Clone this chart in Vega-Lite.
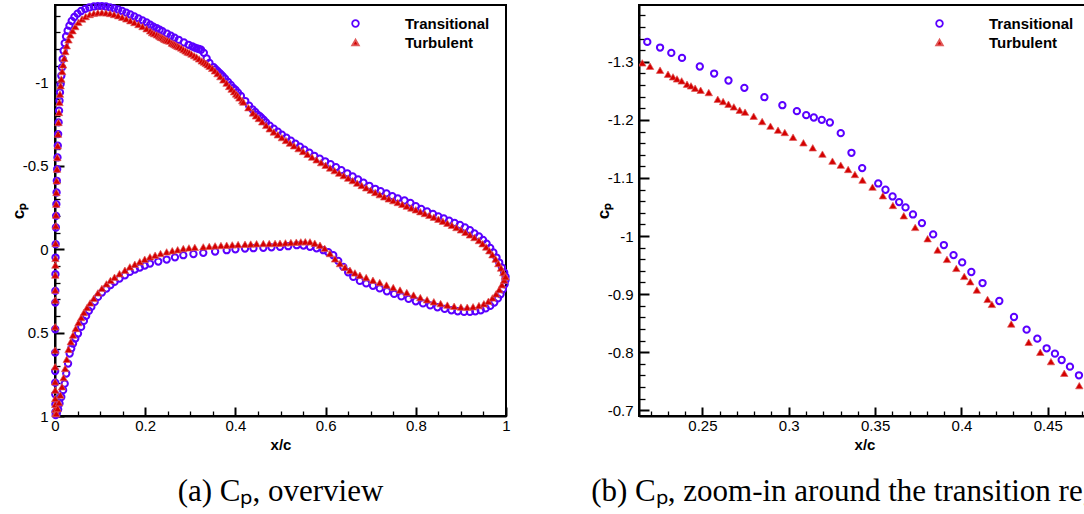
{
"$schema": "https://vega.github.io/schema/vega-lite/v6.json",
"background": "white",
"padding": {"left": 8, "top": -2, "right": -12, "bottom": 0},
"spacing": 76,
"config": {
  "view": {"stroke": "black", "strokeWidth": 2},
  "font": "Liberation Sans",
  "axis": {"domainColor": "black", "domainWidth": 2, "tickColor": "black", "grid": false,
    "labelFont": "Liberation Sans", "labelFontSize": 15, "labelColor": "black",
    "titleFont": "Liberation Sans", "titleFontWeight": "bold", "titleColor": "black",
    "zindex": 1, "labelFlush": false, "labelOverlap": false},
  "legend": {"labelFont": "Liberation Sans", "labelFontSize": 15, "labelFontWeight": "bold", "labelColor": "black",
    "symbolSize": 44, "symbolStrokeWidth": 1.8, "labelOffset": 42, "rowPadding": 3, "padding": 0}
},
"resolve": {"legend": {"shape": "independent", "fill": "independent", "stroke": "independent"}},
"datasets": {"cp": [
{"s":"Transitional","x":0.0015,"cp":0.995},{"s":"Transitional","x":0.001,"cp":0.975},{"s":"Transitional","x":0.0008,"cp":0.93},{"s":"Transitional","x":0.0006,"cp":0.87},{"s":"Transitional","x":0.0005,"cp":0.8},{"s":"Transitional","x":0.0004,"cp":0.73},{"s":"Transitional","x":0.0004,"cp":0.62},{"s":"Transitional","x":0.0005,"cp":0.48},{"s":"Transitional","x":0.0006,"cp":0.32},{"s":"Transitional","x":0.0008,"cp":0.25},{"s":"Transitional","x":0.001,"cp":0.15},{"s":"Transitional","x":0.0012,"cp":0.05},{"s":"Transitional","x":0.0015,"cp":-0.03},{"s":"Transitional","x":0.002,"cp":-0.13},{"s":"Transitional","x":0.0025,"cp":-0.2},{"s":"Transitional","x":0.003,"cp":-0.27},{"s":"Transitional","x":0.0035,"cp":-0.34},{"s":"Transitional","x":0.004,"cp":-0.41},{"s":"Transitional","x":0.0048,"cp":-0.48},{"s":"Transitional","x":0.0055,"cp":-0.55},{"s":"Transitional","x":0.0062,"cp":-0.62},{"s":"Transitional","x":0.007,"cp":-0.69},{"s":"Transitional","x":0.008,"cp":-0.76},{"s":"Transitional","x":0.009,"cp":-0.83},{"s":"Transitional","x":0.01,"cp":-0.89},{"s":"Transitional","x":0.011,"cp":-0.94},{"s":"Transitional","x":0.0125,"cp":-0.99},{"s":"Transitional","x":0.014,"cp":-1.04},{"s":"Transitional","x":0.0155,"cp":-1.09},{"s":"Transitional","x":0.017,"cp":-1.14},{"s":"Transitional","x":0.019,"cp":-1.19},{"s":"Transitional","x":0.0215,"cp":-1.235},{"s":"Transitional","x":0.0245,"cp":-1.275},{"s":"Transitional","x":0.028,"cp":-1.31},{"s":"Transitional","x":0.032,"cp":-1.34},{"s":"Transitional","x":0.037,"cp":-1.368},{"s":"Transitional","x":0.043,"cp":-1.392},{"s":"Transitional","x":0.05,"cp":-1.412},{"s":"Transitional","x":0.058,"cp":-1.428},{"s":"Transitional","x":0.067,"cp":-1.441},{"s":"Transitional","x":0.076,"cp":-1.449},{"s":"Transitional","x":0.086,"cp":-1.455},{"s":"Transitional","x":0.095,"cp":-1.457},{"s":"Transitional","x":0.104,"cp":-1.457},{"s":"Transitional","x":0.113,"cp":-1.455},{"s":"Transitional","x":0.122,"cp":-1.45},{"s":"Transitional","x":0.131,"cp":-1.444},{"s":"Transitional","x":0.14,"cp":-1.437},{"s":"Transitional","x":0.149,"cp":-1.428},{"s":"Transitional","x":0.158,"cp":-1.418},{"s":"Transitional","x":0.167,"cp":-1.407},{"s":"Transitional","x":0.176,"cp":-1.396},{"s":"Transitional","x":0.185,"cp":-1.384},{"s":"Transitional","x":0.194,"cp":-1.372},{"s":"Transitional","x":0.203,"cp":-1.36},{"s":"Transitional","x":0.211,"cp":-1.346},
{"s":"Transitional","x":0.2181,"cp":-1.3344},{"s":"Transitional","x":0.2255,"cp":-1.3247},{"s":"Transitional","x":0.232,"cp":-1.3155},{"s":"Transitional","x":0.2382,"cp":-1.3069},{"s":"Transitional","x":0.2485,"cp":-1.292},{"s":"Transitional","x":0.2568,"cp":-1.2799},{"s":"Transitional","x":0.2651,"cp":-1.2679},{"s":"Transitional","x":0.2743,"cp":-1.2553},{"s":"Transitional","x":0.2859,"cp":-1.2392},{"s":"Transitional","x":0.2963,"cp":-1.2254},{"s":"Transitional","x":0.3047,"cp":-1.2151},{"s":"Transitional","x":0.3101,"cp":-1.2082},{"s":"Transitional","x":0.3145,"cp":-1.2042},{"s":"Transitional","x":0.3191,"cp":-1.2002},{"s":"Transitional","x":0.3238,"cp":-1.1956},{"s":"Transitional","x":0.3301,"cp":-1.1772},{"s":"Transitional","x":0.3363,"cp":-1.1434},{"s":"Transitional","x":0.3425,"cp":-1.117},{"s":"Transitional","x":0.3518,"cp":-1.0906},{"s":"Transitional","x":0.356,"cp":-1.0797},{"s":"Transitional","x":0.3601,"cp":-1.0682},{"s":"Transitional","x":0.3639,"cp":-1.0585},{"s":"Transitional","x":0.3676,"cp":-1.0493},{"s":"Transitional","x":0.3719,"cp":-1.0372},{"s":"Transitional","x":0.3771,"cp":-1.0223},{"s":"Transitional","x":0.3836,"cp":-1.0028},{"s":"Transitional","x":0.3898,"cp":-0.9845},{"s":"Transitional","x":0.3954,"cp":-0.9672},{"s":"Transitional","x":0.4004,"cp":-0.9546},{"s":"Transitional","x":0.4057,"cp":-0.938},{"s":"Transitional","x":0.4122,"cp":-0.919},{"s":"Transitional","x":0.4219,"cp":-0.8881},{"s":"Transitional","x":0.4304,"cp":-0.8605},{"s":"Transitional","x":0.4377,"cp":-0.8387},{"s":"Transitional","x":0.4439,"cp":-0.8232},{"s":"Transitional","x":0.4493,"cp":-0.8066},{"s":"Transitional","x":0.4541,"cp":-0.7974},{"s":"Transitional","x":0.458,"cp":-0.7865},{"s":"Transitional","x":0.4628,"cp":-0.775},{"s":"Transitional","x":0.468,"cp":-0.7601},
{"s":"Transitional","x":0.476,"cp":-0.741},{"s":"Transitional","x":0.485,"cp":-0.722},{"s":"Transitional","x":0.494,"cp":-0.704},{"s":"Transitional","x":0.503,"cp":-0.687},{"s":"Transitional","x":0.513,"cp":-0.668},{"s":"Transitional","x":0.523,"cp":-0.65},{"s":"Transitional","x":0.533,"cp":-0.632},{"s":"Transitional","x":0.543,"cp":-0.614},{"s":"Transitional","x":0.553,"cp":-0.596},{"s":"Transitional","x":0.564,"cp":-0.578},{"s":"Transitional","x":0.575,"cp":-0.56},{"s":"Transitional","x":0.587,"cp":-0.543},{"s":"Transitional","x":0.599,"cp":-0.527},{"s":"Transitional","x":0.611,"cp":-0.51},{"s":"Transitional","x":0.623,"cp":-0.492},{"s":"Transitional","x":0.635,"cp":-0.474},{"s":"Transitional","x":0.648,"cp":-0.455},{"s":"Transitional","x":0.66,"cp":-0.436},{"s":"Transitional","x":0.672,"cp":-0.418},{"s":"Transitional","x":0.684,"cp":-0.399},{"s":"Transitional","x":0.697,"cp":-0.38},{"s":"Transitional","x":0.71,"cp":-0.362},{"s":"Transitional","x":0.722,"cp":-0.348},{"s":"Transitional","x":0.735,"cp":-0.335},{"s":"Transitional","x":0.748,"cp":-0.318},{"s":"Transitional","x":0.76,"cp":-0.305},{"s":"Transitional","x":0.775,"cp":-0.292},{"s":"Transitional","x":0.788,"cp":-0.278},{"s":"Transitional","x":0.8,"cp":-0.258},{"s":"Transitional","x":0.812,"cp":-0.242},{"s":"Transitional","x":0.825,"cp":-0.226},{"s":"Transitional","x":0.838,"cp":-0.211},{"s":"Transitional","x":0.85,"cp":-0.197},{"s":"Transitional","x":0.862,"cp":-0.184},{"s":"Transitional","x":0.874,"cp":-0.171},{"s":"Transitional","x":0.886,"cp":-0.158},{"s":"Transitional","x":0.898,"cp":-0.145},{"s":"Transitional","x":0.909,"cp":-0.13},{"s":"Transitional","x":0.92,"cp":-0.114},{"s":"Transitional","x":0.93,"cp":-0.095},{"s":"Transitional","x":0.94,"cp":-0.076},{"s":"Transitional","x":0.949,"cp":-0.055},{"s":"Transitional","x":0.957,"cp":-0.033},{"s":"Transitional","x":0.965,"cp":-0.008},{"s":"Transitional","x":0.972,"cp":0.02},{"s":"Transitional","x":0.979,"cp":0.05},{"s":"Transitional","x":0.985,"cp":0.08},{"s":"Transitional","x":0.991,"cp":0.11},{"s":"Transitional","x":0.996,"cp":0.14},{"s":"Transitional","x":0.999,"cp":0.165},
{"s":"Transitional","x":0.004,"cp":0.985},{"s":"Transitional","x":0.007,"cp":0.96},{"s":"Transitional","x":0.01,"cp":0.925},{"s":"Transitional","x":0.014,"cp":0.886},{"s":"Transitional","x":0.018,"cp":0.845},{"s":"Transitional","x":0.0215,"cp":0.806},{"s":"Transitional","x":0.025,"cp":0.745},{"s":"Transitional","x":0.029,"cp":0.686},{"s":"Transitional","x":0.0325,"cp":0.626},{"s":"Transitional","x":0.036,"cp":0.595},{"s":"Transitional","x":0.04,"cp":0.566},{"s":"Transitional","x":0.045,"cp":0.536},{"s":"Transitional","x":0.051,"cp":0.506},{"s":"Transitional","x":0.058,"cp":0.466},{"s":"Transitional","x":0.064,"cp":0.43},{"s":"Transitional","x":0.069,"cp":0.4},{"s":"Transitional","x":0.075,"cp":0.37},{"s":"Transitional","x":0.0806,"cp":0.346},{"s":"Transitional","x":0.088,"cp":0.316},{"s":"Transitional","x":0.0953,"cp":0.286},{"s":"Transitional","x":0.104,"cp":0.26},{"s":"Transitional","x":0.114,"cp":0.236},{"s":"Transitional","x":0.123,"cp":0.215},{"s":"Transitional","x":0.132,"cp":0.196},{"s":"Transitional","x":0.143,"cp":0.176},{"s":"Transitional","x":0.155,"cp":0.156},{"s":"Transitional","x":0.166,"cp":0.136},{"s":"Transitional","x":0.177,"cp":0.122},{"s":"Transitional","x":0.188,"cp":0.11},{"s":"Transitional","x":0.199,"cp":0.098},{"s":"Transitional","x":0.2106,"cp":0.086},{"s":"Transitional","x":0.229,"cp":0.074},{"s":"Transitional","x":0.2476,"cp":0.062},{"s":"Transitional","x":0.266,"cp":0.049},{"s":"Transitional","x":0.2845,"cp":0.036},{"s":"Transitional","x":0.307,"cp":0.029},{"s":"Transitional","x":0.3288,"cp":0.022},{"s":"Transitional","x":0.355,"cp":0.014},{"s":"Transitional","x":0.3807,"cp":0.006},{"s":"Transitional","x":0.4,"cp":0.001},{"s":"Transitional","x":0.4213,"cp":-0.004},{"s":"Transitional","x":0.44,"cp":-0.006},{"s":"Transitional","x":0.4619,"cp":-0.008},{"s":"Transitional","x":0.48,"cp":-0.011},{"s":"Transitional","x":0.4989,"cp":-0.014},{"s":"Transitional","x":0.517,"cp":-0.018},{"s":"Transitional","x":0.536,"cp":-0.024},{"s":"Transitional","x":0.551,"cp":-0.022},{"s":"Transitional","x":0.5654,"cp":-0.014},{"s":"Transitional","x":0.58,"cp":-0.005},{"s":"Transitional","x":0.595,"cp":0.006},{"s":"Transitional","x":0.606,"cp":0.018},{"s":"Transitional","x":0.617,"cp":0.036},{"s":"Transitional","x":0.628,"cp":0.07},{"s":"Transitional","x":0.6393,"cp":0.106},{"s":"Transitional","x":0.65,"cp":0.138},{"s":"Transitional","x":0.6614,"cp":0.166},{"s":"Transitional","x":0.676,"cp":0.19},{"s":"Transitional","x":0.69,"cp":0.205},{"s":"Transitional","x":0.705,"cp":0.219},{"s":"Transitional","x":0.72,"cp":0.235},{"s":"Transitional","x":0.736,"cp":0.252},{"s":"Transitional","x":0.752,"cp":0.268},{"s":"Transitional","x":0.768,"cp":0.283},{"s":"Transitional","x":0.784,"cp":0.298},{"s":"Transitional","x":0.8,"cp":0.312},{"s":"Transitional","x":0.816,"cp":0.325},{"s":"Transitional","x":0.832,"cp":0.337},{"s":"Transitional","x":0.848,"cp":0.348},{"s":"Transitional","x":0.864,"cp":0.358},{"s":"Transitional","x":0.879,"cp":0.366},{"s":"Transitional","x":0.893,"cp":0.372},{"s":"Transitional","x":0.907,"cp":0.376},{"s":"Transitional","x":0.92,"cp":0.376},{"s":"Transitional","x":0.932,"cp":0.372},{"s":"Transitional","x":0.944,"cp":0.366},{"s":"Transitional","x":0.955,"cp":0.355},{"s":"Transitional","x":0.965,"cp":0.34},{"s":"Transitional","x":0.974,"cp":0.32},{"s":"Transitional","x":0.982,"cp":0.295},{"s":"Transitional","x":0.988,"cp":0.27},{"s":"Transitional","x":0.993,"cp":0.24},{"s":"Transitional","x":0.997,"cp":0.21},{"s":"Transitional","x":0.999,"cp":0.185},
{"s":"Turbulent","x":0.001,"cp":0.985},{"s":"Turbulent","x":0.0008,"cp":0.96},{"s":"Turbulent","x":0.0006,"cp":0.93},{"s":"Turbulent","x":0.0005,"cp":0.895},{"s":"Turbulent","x":0.0004,"cp":0.845},{"s":"Turbulent","x":0.0003,"cp":0.795},{"s":"Turbulent","x":0.0003,"cp":0.705},{"s":"Turbulent","x":0.0003,"cp":0.605},{"s":"Turbulent","x":0.0004,"cp":0.465},{"s":"Turbulent","x":0.0005,"cp":0.305},{"s":"Turbulent","x":0.0006,"cp":0.245},{"s":"Turbulent","x":0.0007,"cp":0.155},{"s":"Turbulent","x":0.0008,"cp":0.095},{"s":"Turbulent","x":0.001,"cp":0.055},{"s":"Turbulent","x":0.0013,"cp":-0.035},{"s":"Turbulent","x":0.0017,"cp":-0.14},{"s":"Turbulent","x":0.0022,"cp":-0.205},{"s":"Turbulent","x":0.0027,"cp":-0.27},{"s":"Turbulent","x":0.0032,"cp":-0.34},{"s":"Turbulent","x":0.0038,"cp":-0.41},{"s":"Turbulent","x":0.0045,"cp":-0.48},{"s":"Turbulent","x":0.0052,"cp":-0.55},{"s":"Turbulent","x":0.006,"cp":-0.62},{"s":"Turbulent","x":0.0068,"cp":-0.69},{"s":"Turbulent","x":0.0078,"cp":-0.76},{"s":"Turbulent","x":0.0088,"cp":-0.82},{"s":"Turbulent","x":0.0098,"cp":-0.88},{"s":"Turbulent","x":0.011,"cp":-0.93},{"s":"Turbulent","x":0.0125,"cp":-0.98},{"s":"Turbulent","x":0.014,"cp":-1.02},{"s":"Turbulent","x":0.016,"cp":-1.065},{"s":"Turbulent","x":0.018,"cp":-1.105},{"s":"Turbulent","x":0.0205,"cp":-1.145},{"s":"Turbulent","x":0.023,"cp":-1.185},{"s":"Turbulent","x":0.026,"cp":-1.22},{"s":"Turbulent","x":0.03,"cp":-1.255},{"s":"Turbulent","x":0.034,"cp":-1.285},{"s":"Turbulent","x":0.039,"cp":-1.31},{"s":"Turbulent","x":0.045,"cp":-1.335},{"s":"Turbulent","x":0.052,"cp":-1.36},{"s":"Turbulent","x":0.06,"cp":-1.38},{"s":"Turbulent","x":0.068,"cp":-1.395},{"s":"Turbulent","x":0.077,"cp":-1.407},{"s":"Turbulent","x":0.086,"cp":-1.414},{"s":"Turbulent","x":0.095,"cp":-1.418},{"s":"Turbulent","x":0.104,"cp":-1.419},{"s":"Turbulent","x":0.113,"cp":-1.417},{"s":"Turbulent","x":0.122,"cp":-1.413},{"s":"Turbulent","x":0.131,"cp":-1.407},{"s":"Turbulent","x":0.14,"cp":-1.4},{"s":"Turbulent","x":0.149,"cp":-1.391},{"s":"Turbulent","x":0.158,"cp":-1.381},{"s":"Turbulent","x":0.167,"cp":-1.37},{"s":"Turbulent","x":0.176,"cp":-1.359},{"s":"Turbulent","x":0.185,"cp":-1.347},{"s":"Turbulent","x":0.194,"cp":-1.335},{"s":"Turbulent","x":0.203,"cp":-1.322},{"s":"Turbulent","x":0.211,"cp":-1.309},
{"s":"Turbulent","x":0.2152,"cp":-1.2983},{"s":"Turbulent","x":0.2197,"cp":-1.2925},{"s":"Turbulent","x":0.2255,"cp":-1.2857},{"s":"Turbulent","x":0.2301,"cp":-1.2788},{"s":"Turbulent","x":0.233,"cp":-1.2742},{"s":"Turbulent","x":0.2353,"cp":-1.2707},{"s":"Turbulent","x":0.238,"cp":-1.2673},{"s":"Turbulent","x":0.2411,"cp":-1.2616},{"s":"Turbulent","x":0.2434,"cp":-1.2587},{"s":"Turbulent","x":0.2458,"cp":-1.2547},{"s":"Turbulent","x":0.249,"cp":-1.2512},{"s":"Turbulent","x":0.2537,"cp":-1.2472},{"s":"Turbulent","x":0.2589,"cp":-1.2357},{"s":"Turbulent","x":0.262,"cp":-1.2317},{"s":"Turbulent","x":0.2651,"cp":-1.2271},{"s":"Turbulent","x":0.2682,"cp":-1.2225},{"s":"Turbulent","x":0.2716,"cp":-1.2168},{"s":"Turbulent","x":0.2747,"cp":-1.2134},{"s":"Turbulent","x":0.2797,"cp":-1.2065},{"s":"Turbulent","x":0.2846,"cp":-1.1973},{"s":"Turbulent","x":0.2894,"cp":-1.1893},{"s":"Turbulent","x":0.2938,"cp":-1.1824},{"s":"Turbulent","x":0.2977,"cp":-1.1784},{"s":"Turbulent","x":0.3025,"cp":-1.1703},{"s":"Turbulent","x":0.3085,"cp":-1.1606},{"s":"Turbulent","x":0.3139,"cp":-1.152},{"s":"Turbulent","x":0.3195,"cp":-1.1411},{"s":"Turbulent","x":0.3253,"cp":-1.129},{"s":"Turbulent","x":0.3301,"cp":-1.1221},{"s":"Turbulent","x":0.3344,"cp":-1.1147},{"s":"Turbulent","x":0.3383,"cp":-1.1061},{"s":"Turbulent","x":0.3427,"cp":-1.0963},{"s":"Turbulent","x":0.3485,"cp":-1.0843},{"s":"Turbulent","x":0.3545,"cp":-1.0694},{"s":"Turbulent","x":0.3603,"cp":-1.0527},{"s":"Turbulent","x":0.3666,"cp":-1.0349},{"s":"Turbulent","x":0.3732,"cp":-1.0149},{"s":"Turbulent","x":0.3804,"cp":-0.9954},{"s":"Turbulent","x":0.3862,"cp":-0.9759},{"s":"Turbulent","x":0.3916,"cp":-0.9598},{"s":"Turbulent","x":0.397,"cp":-0.9443},{"s":"Turbulent","x":0.4016,"cp":-0.9305},{"s":"Turbulent","x":0.4051,"cp":-0.9213},{"s":"Turbulent","x":0.4089,"cp":-0.907},{"s":"Turbulent","x":0.4151,"cp":-0.8909},{"s":"Turbulent","x":0.4176,"cp":-0.8823},{"s":"Turbulent","x":0.4288,"cp":-0.8485},{"s":"Turbulent","x":0.4389,"cp":-0.8169},{"s":"Turbulent","x":0.4456,"cp":-0.7997},{"s":"Turbulent","x":0.4518,"cp":-0.7837},{"s":"Turbulent","x":0.4595,"cp":-0.7636},{"s":"Turbulent","x":0.4682,"cp":-0.7423},
{"s":"Turbulent","x":0.476,"cp":-0.722},{"s":"Turbulent","x":0.485,"cp":-0.703},{"s":"Turbulent","x":0.494,"cp":-0.686},{"s":"Turbulent","x":0.503,"cp":-0.669},{"s":"Turbulent","x":0.512,"cp":-0.652},{"s":"Turbulent","x":0.521,"cp":-0.636},{"s":"Turbulent","x":0.53,"cp":-0.62},{"s":"Turbulent","x":0.54,"cp":-0.603},{"s":"Turbulent","x":0.55,"cp":-0.586},{"s":"Turbulent","x":0.56,"cp":-0.569},{"s":"Turbulent","x":0.57,"cp":-0.552},{"s":"Turbulent","x":0.58,"cp":-0.536},{"s":"Turbulent","x":0.59,"cp":-0.519},{"s":"Turbulent","x":0.6,"cp":-0.503},{"s":"Turbulent","x":0.61,"cp":-0.487},{"s":"Turbulent","x":0.62,"cp":-0.471},{"s":"Turbulent","x":0.63,"cp":-0.456},{"s":"Turbulent","x":0.64,"cp":-0.441},{"s":"Turbulent","x":0.65,"cp":-0.426},{"s":"Turbulent","x":0.66,"cp":-0.411},{"s":"Turbulent","x":0.67,"cp":-0.396},{"s":"Turbulent","x":0.68,"cp":-0.382},{"s":"Turbulent","x":0.69,"cp":-0.368},{"s":"Turbulent","x":0.7,"cp":-0.354},{"s":"Turbulent","x":0.71,"cp":-0.34},{"s":"Turbulent","x":0.72,"cp":-0.327},{"s":"Turbulent","x":0.73,"cp":-0.314},{"s":"Turbulent","x":0.74,"cp":-0.302},{"s":"Turbulent","x":0.75,"cp":-0.291},{"s":"Turbulent","x":0.76,"cp":-0.28},{"s":"Turbulent","x":0.77,"cp":-0.269},{"s":"Turbulent","x":0.78,"cp":-0.258},{"s":"Turbulent","x":0.79,"cp":-0.247},{"s":"Turbulent","x":0.8,"cp":-0.236},{"s":"Turbulent","x":0.81,"cp":-0.225},{"s":"Turbulent","x":0.82,"cp":-0.214},{"s":"Turbulent","x":0.83,"cp":-0.203},{"s":"Turbulent","x":0.84,"cp":-0.192},{"s":"Turbulent","x":0.85,"cp":-0.18},{"s":"Turbulent","x":0.86,"cp":-0.168},{"s":"Turbulent","x":0.87,"cp":-0.156},{"s":"Turbulent","x":0.88,"cp":-0.143},{"s":"Turbulent","x":0.89,"cp":-0.13},{"s":"Turbulent","x":0.9,"cp":-0.116},{"s":"Turbulent","x":0.91,"cp":-0.101},{"s":"Turbulent","x":0.92,"cp":-0.086},{"s":"Turbulent","x":0.93,"cp":-0.07},{"s":"Turbulent","x":0.94,"cp":-0.052},{"s":"Turbulent","x":0.948,"cp":-0.033},{"s":"Turbulent","x":0.956,"cp":-0.013},{"s":"Turbulent","x":0.963,"cp":0.009},{"s":"Turbulent","x":0.97,"cp":0.033},{"s":"Turbulent","x":0.977,"cp":0.059},{"s":"Turbulent","x":0.983,"cp":0.086},{"s":"Turbulent","x":0.989,"cp":0.113},{"s":"Turbulent","x":0.994,"cp":0.14},{"s":"Turbulent","x":0.998,"cp":0.16},
{"s":"Turbulent","x":0.003,"cp":0.985},{"s":"Turbulent","x":0.006,"cp":0.955},{"s":"Turbulent","x":0.009,"cp":0.92},{"s":"Turbulent","x":0.012,"cp":0.875},{"s":"Turbulent","x":0.0155,"cp":0.825},{"s":"Turbulent","x":0.019,"cp":0.77},{"s":"Turbulent","x":0.0225,"cp":0.715},{"s":"Turbulent","x":0.026,"cp":0.66},{"s":"Turbulent","x":0.03,"cp":0.6},{"s":"Turbulent","x":0.035,"cp":0.555},{"s":"Turbulent","x":0.04,"cp":0.515},{"s":"Turbulent","x":0.046,"cp":0.475},{"s":"Turbulent","x":0.052,"cp":0.44},{"s":"Turbulent","x":0.058,"cp":0.41},{"s":"Turbulent","x":0.064,"cp":0.38},{"s":"Turbulent","x":0.071,"cp":0.35},{"s":"Turbulent","x":0.078,"cp":0.322},{"s":"Turbulent","x":0.086,"cp":0.295},{"s":"Turbulent","x":0.095,"cp":0.262},{"s":"Turbulent","x":0.104,"cp":0.235},{"s":"Turbulent","x":0.114,"cp":0.208},{"s":"Turbulent","x":0.123,"cp":0.187},{"s":"Turbulent","x":0.132,"cp":0.168},{"s":"Turbulent","x":0.143,"cp":0.147},{"s":"Turbulent","x":0.155,"cp":0.126},{"s":"Turbulent","x":0.166,"cp":0.106},{"s":"Turbulent","x":0.177,"cp":0.09},{"s":"Turbulent","x":0.188,"cp":0.075},{"s":"Turbulent","x":0.199,"cp":0.06},{"s":"Turbulent","x":0.2106,"cp":0.046},{"s":"Turbulent","x":0.222,"cp":0.036},{"s":"Turbulent","x":0.234,"cp":0.026},{"s":"Turbulent","x":0.2476,"cp":0.016},{"s":"Turbulent","x":0.26,"cp":0.009},{"s":"Turbulent","x":0.272,"cp":0.003},{"s":"Turbulent","x":0.2845,"cp":-0.004},{"s":"Turbulent","x":0.297,"cp":-0.008},{"s":"Turbulent","x":0.31,"cp":-0.011},{"s":"Turbulent","x":0.3288,"cp":-0.014},{"s":"Turbulent","x":0.342,"cp":-0.017},{"s":"Turbulent","x":0.355,"cp":-0.02},{"s":"Turbulent","x":0.368,"cp":-0.022},{"s":"Turbulent","x":0.3807,"cp":-0.024},{"s":"Turbulent","x":0.393,"cp":-0.026},{"s":"Turbulent","x":0.406,"cp":-0.028},{"s":"Turbulent","x":0.4213,"cp":-0.03},{"s":"Turbulent","x":0.434,"cp":-0.031},{"s":"Turbulent","x":0.447,"cp":-0.033},{"s":"Turbulent","x":0.4619,"cp":-0.034},{"s":"Turbulent","x":0.475,"cp":-0.034},{"s":"Turbulent","x":0.488,"cp":-0.035},{"s":"Turbulent","x":0.4989,"cp":-0.036},{"s":"Turbulent","x":0.511,"cp":-0.038},{"s":"Turbulent","x":0.523,"cp":-0.04},{"s":"Turbulent","x":0.535,"cp":-0.042},{"s":"Turbulent","x":0.545,"cp":-0.044},{"s":"Turbulent","x":0.555,"cp":-0.045},{"s":"Turbulent","x":0.5654,"cp":-0.044},{"s":"Turbulent","x":0.576,"cp":-0.036},{"s":"Turbulent","x":0.5876,"cp":-0.024},{"s":"Turbulent","x":0.598,"cp":-0.005},{"s":"Turbulent","x":0.6097,"cp":0.026},{"s":"Turbulent","x":0.621,"cp":0.058},{"s":"Turbulent","x":0.6319,"cp":0.086},{"s":"Turbulent","x":0.643,"cp":0.108},{"s":"Turbulent","x":0.654,"cp":0.126},{"s":"Turbulent","x":0.665,"cp":0.142},{"s":"Turbulent","x":0.676,"cp":0.156},{"s":"Turbulent","x":0.69,"cp":0.17},{"s":"Turbulent","x":0.705,"cp":0.186},{"s":"Turbulent","x":0.72,"cp":0.2},{"s":"Turbulent","x":0.735,"cp":0.215},{"s":"Turbulent","x":0.75,"cp":0.23},{"s":"Turbulent","x":0.765,"cp":0.245},{"s":"Turbulent","x":0.78,"cp":0.26},{"s":"Turbulent","x":0.795,"cp":0.275},{"s":"Turbulent","x":0.81,"cp":0.29},{"s":"Turbulent","x":0.825,"cp":0.303},{"s":"Turbulent","x":0.84,"cp":0.315},{"s":"Turbulent","x":0.855,"cp":0.326},{"s":"Turbulent","x":0.87,"cp":0.335},{"s":"Turbulent","x":0.885,"cp":0.342},{"s":"Turbulent","x":0.9,"cp":0.347},{"s":"Turbulent","x":0.914,"cp":0.348},{"s":"Turbulent","x":0.927,"cp":0.345},{"s":"Turbulent","x":0.94,"cp":0.338},{"s":"Turbulent","x":0.951,"cp":0.327},{"s":"Turbulent","x":0.961,"cp":0.312},{"s":"Turbulent","x":0.97,"cp":0.292},{"s":"Turbulent","x":0.978,"cp":0.268},{"s":"Turbulent","x":0.985,"cp":0.242},{"s":"Turbulent","x":0.991,"cp":0.213},{"s":"Turbulent","x":0.996,"cp":0.185},{"s":"Turbulent","x":0.999,"cp":0.165}
]},
"hconcat": [
{
  "width": 451, "height": 411,
  "data": {"name": "cp"},
  "title": {"text": "(a) Cₚ, overview", "orient": "bottom", "anchor": "middle", "font": "Liberation Serif", "fontSize": 31, "fontWeight": "normal", "color": "black", "offset": 25},
  "mark": {"type": "point", "opacity": 1},
  "encoding": {
    "x": {"field": "x", "type": "quantitative", "scale": {"domain": [0, 1], "nice": false, "zero": false},
      "axis": {"title": "x/c", "titleFontSize": 15, "titlePadding": 0,
        "values": [0,0.05,0.1,0.15,0.2,0.25,0.3,0.35,0.4,0.45,0.5,0.55,0.6,0.65,0.7,0.75,0.8,0.85,0.9,0.95,1],
        "tickSize": {"expr": "abs(datum.value*5-round(datum.value*5))<1e-6 ? -9 : -5"},
        "tickWidth": {"condition": {"test": "abs(datum.value*5-round(datum.value*5))<1e-6", "value": 2}, "value": 1.3},
        "labelPadding": 11,
        "labelExpr": "abs(datum.value*5-round(datum.value*5))<1e-6 ? replace(format(datum.value,'~g'),'\u2212','-') : ''"}},
    "y": {"field": "cp", "type": "quantitative", "scale": {"domain": [-1.464, 1], "reverse": true, "nice": false, "zero": false},
      "axis": {"title": "cₚ", "titleFontSize": 17, "titlePadding": -5,
        "values": [-1.4,-1.3,-1.2,-1.1,-1,-0.9,-0.8,-0.7,-0.6,-0.5,-0.4,-0.3,-0.2,-0.1,0,0.1,0.2,0.3,0.4,0.5,0.6,0.7,0.8,0.9,1],
        "tickSize": {"expr": "abs(datum.value*2-round(datum.value*2))<1e-6 ? -9 : -5"},
        "tickWidth": {"condition": {"test": "abs(datum.value*2-round(datum.value*2))<1e-6", "value": 2}, "value": 1.3},
        "labelPadding": 16,
        "labelExpr": "abs(datum.value*2-round(datum.value*2))<1e-6 ? replace(format(datum.value,'~g'),'\u2212','-') : ''"}},
    "shape": {"field": "s", "type": "nominal", "scale": {"domain": ["Transitional", "Turbulent"], "range": ["circle", "triangle-up"]},
      "legend": {"orient": "none", "legendX": 293, "legendY": 11, "title": null}},
    "fill": {"field": "s", "type": "nominal", "scale": {"domain": ["Transitional", "Turbulent"], "range": ["transparent", "#d40000"]},
      "legend": {"orient": "none", "legendX": 293, "legendY": 11, "title": null}},
    "stroke": {"field": "s", "type": "nominal", "scale": {"domain": ["Transitional", "Turbulent"], "range": ["#5a00ff", "#e05a5a"]},
      "legend": {"orient": "none", "legendX": 293, "legendY": 11, "title": null}},
    "strokeWidth": {"condition": {"test": "datum.s === 'Transitional'", "value": 2}, "value": 0.7},
    "size": {"condition": {"test": "datum.s === 'Transitional'", "value": 40}, "value": 55}
  }
},
{
  "width": 451, "height": 411,
  "data": {"name": "cp"},
  "title": {"text": "(b) Cₚ, zoom-in around the transition region", "orient": "bottom", "anchor": "middle", "font": "Liberation Serif", "fontSize": 31, "fontWeight": "normal", "color": "black", "offset": 25},
  "mark": {"type": "point", "opacity": 1, "clip": true},
  "encoding": {
    "x": {"field": "x", "type": "quantitative", "scale": {"domain": [0.2133, 0.4744], "nice": false, "zero": false},
      "axis": {"title": "x/c", "titleFontSize": 15, "titlePadding": 0,
        "values": [0.22,0.23,0.24,0.25,0.26,0.27,0.28,0.29,0.3,0.31,0.32,0.33,0.34,0.35,0.36,0.37,0.38,0.39,0.4,0.41,0.42,0.43,0.44,0.45,0.46,0.47],
        "tickSize": {"expr": "abs(datum.value*20-round(datum.value*20))<1e-6 ? -9 : -5"},
        "tickWidth": {"condition": {"test": "abs(datum.value*20-round(datum.value*20))<1e-6", "value": 2}, "value": 1.3},
        "labelPadding": 11,
        "labelExpr": "abs(datum.value*20-round(datum.value*20))<1e-6 ? replace(format(datum.value,'~g'),'\u2212','-') : ''"}},
    "y": {"field": "cp", "type": "quantitative", "scale": {"domain": [-1.398, -0.69], "reverse": true, "nice": false, "zero": false},
      "axis": {"title": "cₚ", "titleFontSize": 17, "titlePadding": -5,
        "values": [-1.38,-1.36,-1.34,-1.32,-1.3,-1.28,-1.26,-1.24,-1.22,-1.2,-1.18,-1.16,-1.14,-1.12,-1.1,-1.08,-1.06,-1.04,-1.02,-1,-0.98,-0.96,-0.94,-0.92,-0.9,-0.88,-0.86,-0.84,-0.82,-0.8,-0.78,-0.76,-0.74,-0.72,-0.7],
        "tickSize": {"expr": "abs(datum.value*10-round(datum.value*10))<1e-6 ? -10 : -6"},
        "tickWidth": {"condition": {"test": "abs(datum.value*10-round(datum.value*10))<1e-6", "value": 2}, "value": 1.3},
        "labelPadding": 16,
        "labelExpr": "abs(datum.value*10-round(datum.value*10))<1e-6 ? replace(format(datum.value,'~g'),'\u2212','-') : ''"}},
    "shape": {"field": "s", "type": "nominal", "scale": {"domain": ["Transitional", "Turbulent"], "range": ["circle", "triangle-up"]},
      "legend": {"orient": "none", "legendX": 293, "legendY": 11, "title": null}},
    "fill": {"field": "s", "type": "nominal", "scale": {"domain": ["Transitional", "Turbulent"], "range": ["transparent", "#d40000"]},
      "legend": {"orient": "none", "legendX": 293, "legendY": 11, "title": null}},
    "stroke": {"field": "s", "type": "nominal", "scale": {"domain": ["Transitional", "Turbulent"], "range": ["#5a00ff", "#e05a5a"]},
      "legend": {"orient": "none", "legendX": 293, "legendY": 11, "title": null}},
    "strokeWidth": {"condition": {"test": "datum.s === 'Transitional'", "value": 2}, "value": 0.7},
    "size": {"condition": {"test": "datum.s === 'Transitional'", "value": 40}, "value": 55}
  }
}
]
}
